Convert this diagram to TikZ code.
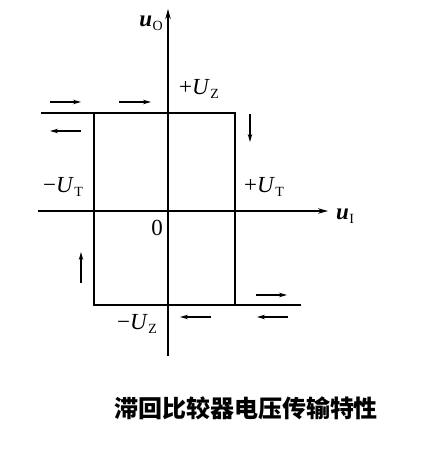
\documentclass[tikz,border=0pt]{standalone}
\usepackage{fontspec}
\setmainfont{Liberation Serif}
\newfontfamily\cjk{Noto Sans CJK SC}
\usetikzlibrary{arrows.meta}
\newcommand{\vlab}[2]{\textit{U}\kern0.5pt\raisebox{-0.35ex}{\fontsize{14}{14}\selectfont #2}}
\tikzset{
  axis/.style={line width=1.3pt,-{Stealth[length=10pt,width=5.5pt]}},
  loopline/.style={line width=2.4pt},
  dirarrow/.style={line width=1.2pt,-{Stealth[length=8pt,width=4.5pt]}},
  lab/.style={inner sep=0pt,font=\fontsize{23}{23}\selectfont},
}
\begin{document}
\begin{tikzpicture}[x=1pt,y=-1pt]
\useasboundingbox (0,0) rectangle (429,469);
\fill[white] (0,0) rectangle (429,469);
% axes
\coordinate (xs) at (38,211);
\coordinate (xe) at (328,211);
\coordinate (ys) at (168,356);
\coordinate (ye) at (168,9);
\draw[axis] (xs) -- (xe);
\draw[axis] (ys) -- (ye);
% loop
\coordinate (tl) at (41,113);
\coordinate (a) at (94,113);
\coordinate (b) at (235,113);
\coordinate (c) at (235,305);
\coordinate (d) at (94,305);
\coordinate (br) at (301,305);
\draw[loopline] (tl) -- (b) -- (c);
\draw[loopline] (a) -- (d) -- (br);
% direction arrows
\draw[dirarrow] (50,102) -- (81,102);
\draw[dirarrow] (119,102) -- (151,102);
\draw[dirarrow] (81,131) -- (50,131);
\draw[dirarrow] (250,114) -- (250,142);
\draw[dirarrow] (81,283) -- (81,252);
\draw[dirarrow] (256,295) -- (287,295);
\draw[dirarrow] (211,317) -- (180,317);
\draw[dirarrow] (288,317) -- (257,317);
% labels
\node[lab] (uo) at (151,23) {\textbf{\textit{u}}\kern0.5pt\raisebox{-0.35ex}{\fontsize{14}{14}\selectfont O}};
\node[lab] (ui) at (345,216) {\textbf{\textit{u}}\kern0.5pt\raisebox{-0.35ex}{\fontsize{14}{14}\selectfont I}};
\node[lab] (puz) at (199,89) {+\vlab{U}{Z}};
\node[lab] (mut) at (63,187) {\textminus\vlab{U}{T}};
\node[lab] (put) at (264,187) {+\vlab{U}{T}};
\node[lab] (zero) at (157,228) {0};
\node[lab] (muz) at (137,324) {\textminus\vlab{U}{Z}};
\node[inner sep=0pt,font=\cjk\bfseries\fontsize{24}{24}\selectfont] (cap) at (246,408) {滞回比较器电压传输特性};
\end{tikzpicture}
\end{document}
